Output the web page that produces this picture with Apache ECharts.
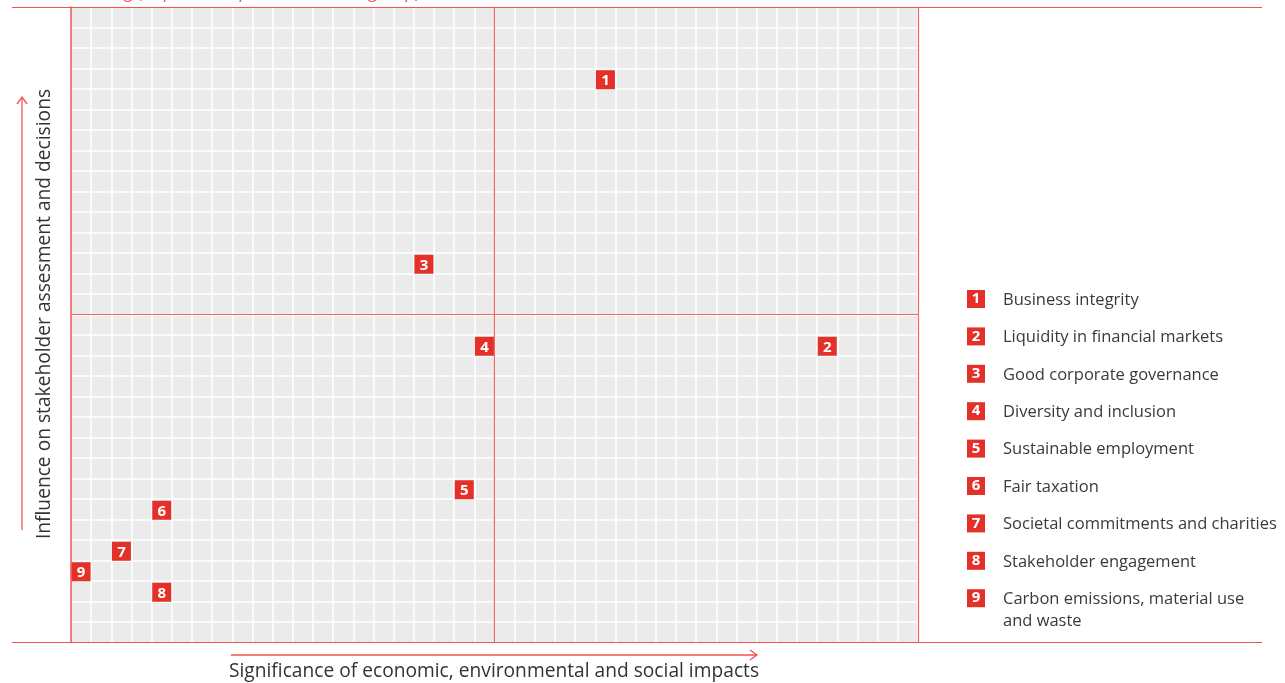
<!DOCTYPE html>
<html>
<head>
<meta charset="utf-8">
<script src="https://cdn.jsdelivr.net/npm/echarts@6/dist/echarts.min.js"></script>
<style>
  html, body { margin: 0; padding: 0; background: #fff; }
  #chart { width: 1285px; height: 683px; }
</style>
</head>
<body>
<div id="chart"></div>
<script>
// Material topics, numbered 1..9
const topics = [
  'Business integrity',
  'Liquidity in financial markets',
  'Good corporate governance',
  'Diversity and inclusion',
  'Sustainable employment',
  'Fair taxation',
  'Societal commitments and charities',
  'Stakeholder engagement',
  'Carbon emissions, material use\nand waste'
];
// Significance of impacts (x) and stakeholder influence (y), in grid cells
const significance = [26.5, 37.5, 17.5, 20.5, 19.5, 4.5, 2.5, 4.5, 0.5];
const influence    = [27.5, 14.5, 18.5, 14.5, 7.5, 6.5, 4.5, 2.5, 3.5];

// Matrix extent and quadrant dividers
const xCells = 42, yCells = 31;
const xDivider = 21, yDivider = 16;

const xTitle = 'Significance of economic, environmental and social impacts';
const yTitle = 'Influence on stakeholder assesment and decisions';
const headTitle = 'Ranking (importance per stakeholder group),';

const RED = '#e3312a';
const LINE_RED = '#ee5550';
const FONT = '"Open Sans", "Noto Sans", sans-serif';

const chart = echarts.init(document.getElementById('chart'));

const points = topics.map((t, i) => ({
  name: String(i + 1),
  value: [significance[i], influence[i]]
}));

// Legend rows built from the topic list
const legendChildren = [];
topics.forEach((t, i) => {
  const cy = 300 + i * 37.4;
  legendChildren.push({
    type: 'rect',
    shape: { x: 967, y: cy - 10, width: 18, height: 18 },
    style: { fill: RED }
  });
  legendChildren.push({
    type: 'text',
    style: {
      x: 976, y: cy - 1, text: String(i + 1),
      fill: '#fff', font: 'bold 15px ' + FONT,
      textAlign: 'center', textVerticalAlign: 'middle'
    }
  });
  legendChildren.push({
    type: 'text',
    style: {
      x: 1003, y: cy - 11, text: t,
      fill: '#3a3a3a', font: '16.5px ' + FONT,
      textAlign: 'left', textVerticalAlign: 'top', lineHeight: 22
    }
  });
});

chart.setOption({
  animation: false,
  grid: {
    left: 71, right: 367, top: 7, bottom: 40.5,
    show: true, backgroundColor: '#ebebeb', borderWidth: 0
  },
  xAxis: {
    type: 'value', min: 0, max: xCells, interval: 1,
    axisLabel: { show: false }, axisTick: { show: false },
    axisLine: { show: false },
    splitLine: { show: true, lineStyle: { color: '#ffffff', width: 1.6 } }
  },
  yAxis: {
    type: 'value', min: 0, max: yCells, interval: 1,
    axisLabel: { show: false }, axisTick: { show: false },
    axisLine: { show: true, lineStyle: { color: LINE_RED, width: 1.5 } },
    splitLine: { show: true, lineStyle: { color: '#ffffff', width: 1.6 } }
  },
  series: [{
    type: 'scatter',
    symbol: 'rect',
    symbolSize: 19,
    symbolOffset: [0, 1],
    itemStyle: { color: RED, opacity: 1 },
    label: {
      show: true, position: 'inside', offset: [0, 1],
      formatter: p => p.name,
      color: '#fff', fontWeight: 'bold', fontSize: 15, fontFamily: FONT
    },
    markLine: {
      silent: true, symbol: 'none', label: { show: false },
      lineStyle: { color: LINE_RED, width: 1.2, type: 'solid', opacity: 0.9 },
      data: [
        { xAxis: xDivider },
        { yAxis: yDivider },
        { xAxis: xCells }
      ]
    },
    data: points,
    z: 5
  }],
  graphic: [
    // frame lines above and below the matrix
    { type: 'line', shape: { x1: 12, y1: 7.5, x2: 1262, y2: 7.5 },
      style: { stroke: LINE_RED, lineWidth: 1.2 }, z: 10 },
    { type: 'line', shape: { x1: 12, y1: 642.5, x2: 1262, y2: 642.5 },
      style: { stroke: LINE_RED, lineWidth: 1.2 }, z: 10 },
    // heading, clipped by the top edge
    { type: 'text', z: 10,
      style: { x: 70, y: 2, text: headTitle, fill: LINE_RED,
        font: 'italic 18px ' + FONT, textAlign: 'left', textVerticalAlign: 'bottom' } },
    // x-axis arrow and title
    { type: 'line', shape: { x1: 231, y1: 655, x2: 756, y2: 655 },
      style: { stroke: LINE_RED, lineWidth: 1.3 } },
    { type: 'polyline', shape: { points: [[750, 650], [757, 655], [750, 660]] },
      style: { stroke: LINE_RED, lineWidth: 1.3, fill: null } },
    { type: 'text',
      style: { x: 494, y: 672, text: xTitle, fill: '#333', font: '19.2px ' + FONT,
        textAlign: 'center', textVerticalAlign: 'middle' } },
    // y-axis arrow and title
    { type: 'line', shape: { x1: 22, y1: 530, x2: 22, y2: 98 },
      style: { stroke: LINE_RED, lineWidth: 1.3 } },
    { type: 'polyline', shape: { points: [[17, 104], [22, 97], [27, 104]] },
      style: { stroke: LINE_RED, lineWidth: 1.3, fill: null } },
    { type: 'text', rotation: Math.PI / 2, x: 45, y: 314,
      style: { x: 0, y: 0, text: yTitle, fill: '#333', font: '19.2px ' + FONT,
        textAlign: 'center', textVerticalAlign: 'middle' } },
    { type: 'group', children: legendChildren }
  ]
});
</script>
</body>
</html>
